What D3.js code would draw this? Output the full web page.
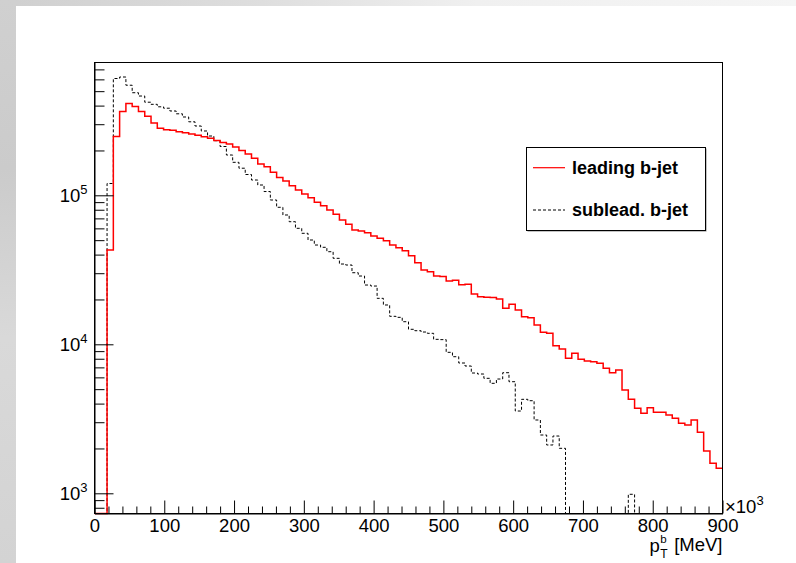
<!DOCTYPE html>
<html><head><meta charset="utf-8">
<script src="https://cdn.jsdelivr.net/npm/d3@7"></script>
<style>
body{margin:0;background:#fff;}
svg{display:block;font-family:"Liberation Sans",Arial,Helvetica,sans-serif;}
</style>
</head><body>
<svg id="c" width="796" height="563"></svg>
<script>
// ---------------- data ----------------
const binWidth = 9;            // GeV per bin (100 bins, 0-900 GeV)
const leadingCounts = [
  0, 0, 43000, 248000, 365000, 413000, 394000, 365000, 339000, 305600,
  282000, 275000, 273500, 266800, 262700, 257900, 252800, 247400, 241700, 233300,
  226500, 221000, 211000, 199800, 189300, 177100, 162200, 155600, 142900, 131700,
  124700, 116000, 108500, 102000, 96400, 89800, 85200, 79700, 74560, 68300,
  63900, 58500, 57600, 56100, 53300, 51450, 49580, 46380, 44490, 42480,
  39310, 35280, 31530, 30700, 28730, 28500, 26600, 26890, 25120, 25270,
  21760, 20870, 20680, 20600, 20140, 17440, 18560, 16990, 15320, 15080,
  13470, 12030, 11850, 9785, 9300, 8054, 8700, 7930, 7725, 7650,
  7456, 6900, 6447, 6722, 4935, 4274, 3720, 3443, 3753, 3497,
  3497, 3354, 3187, 2950, 2873, 3105, 2567, 1923, 1590, 1472
];
const subleadCounts = [
  0, 0, 120000, 608000, 622300, 548000, 488000, 463800, 421500, 408000,
  392600, 384200, 368000, 352400, 335400, 311400, 291800, 270200, 250000, 232500,
  212600, 186400, 166500, 152000, 137900, 126660, 117250, 106000, 93000, 83100,
  73770, 66500, 60060, 55590, 50120, 46380, 44770, 41830, 37770, 34580,
  34050, 30230, 28730, 25000, 24610, 20350, 18360, 15410, 15170, 14180,
  12610, 12340, 12090, 11850, 10800, 10750, 8835, 8256, 7490, 7150,
  6418, 6320, 5912, 5473, 5848, 6447, 5610, 3567, 4274, 4183,
  3105, 2462, 2110, 2424, 2004, 0, 0, 0, 0, 0,
  0, 0, 0, 0, 0, 985, 0, 0, 0, 0,
  0, 0, 0, 0, 0, 0, 0, 0, 0, 0
];
const xMajorTicks = [0, 100, 200, 300, 400, 500, 600, 700, 800, 900];
const yMajorTicks = [1e3, 1e4, 1e5];
const yTickExponents = ["3", "4", "5"];
const legendLabels = ["leading b-jet", "sublead. b-jet"];
const xScaleBase = "\u00d710", xScaleExp = "3";
const xTitleMain = "p", xTitleSub = "T", xTitleSup = "b", xTitleUnit = "[MeV]";

// ---------------- layout ----------------
const svg = d3.select("#c");
const W = 796, H = 563;
const L = 94.5, R = 722.5, T = 62.5, B = 513.5;
const labelFont = 18.5, smallFont = 13;

// background (page/slide look)
const defs = svg.append("defs");
const gTop = defs.append("linearGradient").attr("id", "gtop").attr("x1", 0).attr("x2", 1).attr("y1", 0).attr("y2", 0);
gTop.append("stop").attr("offset", 0).attr("stop-color", "#cfcfcf");
gTop.append("stop").attr("offset", 0.33).attr("stop-color", "#dedede");
gTop.append("stop").attr("offset", 0.6).attr("stop-color", "#f0f0f0");
gTop.append("stop").attr("offset", 1).attr("stop-color", "#f5f5f5");
const gLeft = defs.append("linearGradient").attr("id", "gleft").attr("x1", 0).attr("x2", 0).attr("y1", 0).attr("y2", 1);
gLeft.append("stop").attr("offset", 0).attr("stop-color", "#d0d0d0");
gLeft.append("stop").attr("offset", 0.3).attr("stop-color", "#cbcbcb");
gLeft.append("stop").attr("offset", 0.6).attr("stop-color", "#d9d9d9");
gLeft.append("stop").attr("offset", 1).attr("stop-color", "#d3d3d3");
svg.append("rect").attr("width", W).attr("height", H).attr("fill", "url(#gtop)");
svg.append("rect").attr("x", 0).attr("y", 0).attr("width", 16).attr("height", H).attr("fill", "url(#gleft)");
svg.append("rect").attr("x", 16).attr("y", 6).attr("width", W - 16).attr("height", H - 6).attr("fill", "#ffffff");

// scales
const x = d3.scaleLinear().domain([0, 900]).range([L, R]);
const y = d3.scaleLog().domain([732, 778600]).range([B, T]);
const yc = v => v > 0 ? Math.max(T, Math.min(B, y(v))) : B;

// histograms
const stepLine = d3.line().x(d => d[0]).y(d => d[1]).curve(d3.curveStepAfter);
function histPts(counts) {
  const pts = counts.map((v, i) => [x(i * binWidth), yc(v)]);
  pts.push([x(counts.length * binWidth), yc(counts[counts.length - 1])]);
  return pts;
}
const plot = svg.append("g");
plot.append("path").attr("d", stepLine(histPts(subleadCounts)))
  .attr("fill", "none").attr("stroke", "#000").attr("stroke-width", 1)
  .attr("stroke-dasharray", "3,2");
plot.append("path").attr("d", stepLine(histPts(leadingCounts)))
  .attr("fill", "none").attr("stroke", "#ff0000").attr("stroke-width", 1.5);

// frame
svg.append("rect").attr("x", L).attr("y", T).attr("width", R - L).attr("height", B - T)
  .attr("fill", "none").attr("stroke", "#000").attr("stroke-width", 1);

// x axis
const xMinor = d3.range(0, 901, 20).filter(v => v % 100 !== 0);
svg.append("g").attr("transform", `translate(0,${B})`)
  .call(d3.axisBottom(x).tickValues(xMinor).tickSizeInner(-7).tickSizeOuter(0).tickFormat(""))
  .call(g => g.select(".domain").remove());
const xAx = svg.append("g").attr("transform", `translate(0,${B})`)
  .call(d3.axisBottom(x).tickValues(xMajorTicks).tickSizeInner(-13).tickSizeOuter(0).tickPadding(5));
xAx.select(".domain").attr("stroke", "#000");
xAx.selectAll("line").attr("stroke", "#000");
xAx.selectAll("text").attr("font-size", labelFont).attr("font-family", "Liberation Sans, Arial, sans-serif").attr("fill", "#000");

// y axis
const yMinor = [];
[1e2, 1e3, 1e4, 1e5].forEach(d => { for (let k = 2; k <= 9; k++) yMinor.push(k * d); });
const yMinorIn = yMinor.filter(v => v >= y.domain()[0] && v <= y.domain()[1]);
svg.append("g").attr("transform", `translate(${L},0)`)
  .call(d3.axisLeft(y).tickValues(yMinorIn).tickSizeInner(-10).tickSizeOuter(0).tickFormat(""))
  .call(g => g.select(".domain").remove());
const yAx = svg.append("g").attr("transform", `translate(${L},0)`)
  .call(d3.axisLeft(y).tickValues(yMajorTicks).tickSizeInner(-19).tickSizeOuter(0).tickFormat(""));
yAx.select(".domain").attr("stroke", "#000");
const yLab = svg.append("g").selectAll("text").data(yMajorTicks).join("text")
  .attr("x", L - 7).attr("y", d => y(d) + 6.5)
  .attr("text-anchor", "end").attr("font-size", labelFont).attr("fill", "#000");
yLab.append("tspan").text("10");
yLab.append("tspan").attr("dy", -8).attr("font-size", smallFont).text((d, i) => yTickExponents[i]);

// x scale factor
const xf = svg.append("text").attr("x", R + 2.5).attr("y", B - 0.5).attr("font-size", labelFont).attr("fill", "#000");
xf.append("tspan").text(xScaleBase);
xf.append("tspan").attr("dy", -8).attr("font-size", smallFont).text(xScaleExp);

// x title
const unit = svg.append("text").attr("x", R).attr("y", 551).attr("text-anchor", "end")
  .attr("font-size", labelFont).attr("fill", "#000").text(xTitleUnit);
const uw = unit.node().getComputedTextLength();
const subX = R - uw - 5 - 9;
svg.append("text").attr("x", subX).attr("y", 543).attr("font-size", 11.5).text(xTitleSup);
svg.append("text").attr("x", subX).attr("y", 558).attr("font-size", 12).text(xTitleSub);
svg.append("text").attr("x", subX - 0.5).attr("y", 551.5).attr("text-anchor", "end")
  .attr("font-size", labelFont).text(xTitleMain);

// legend
const lg = svg.append("g");
lg.append("rect").attr("x", 527.5).attr("y", 148.5).attr("width", 179).attr("height", 83).attr("fill", "#888");
lg.append("rect").attr("x", 526.5).attr("y", 147.5).attr("width", 179).attr("height", 83)
  .attr("fill", "#fff").attr("stroke", "#000").attr("stroke-width", 1);
const styles = [{c: "#ff0000", d: null, w: 1.2}, {c: "#000", d: "3,2", w: 1}];
const rowY = [167.7, 210];
const items = lg.selectAll("g.item").data(legendLabels).join("g").attr("class", "item");
items.append("line").attr("x1", 533).attr("x2", 565)
  .attr("y1", (d, i) => rowY[i]).attr("y2", (d, i) => rowY[i])
  .attr("stroke", (d, i) => styles[i].c).attr("stroke-width", (d, i) => styles[i].w)
  .attr("stroke-dasharray", (d, i) => styles[i].d);
items.append("text").attr("x", 572).attr("y", (d, i) => rowY[i] + 6.3)
  .attr("font-size", 18).attr("font-weight", "bold").attr("fill", "#000").text(d => d);
</script>
</body></html>
